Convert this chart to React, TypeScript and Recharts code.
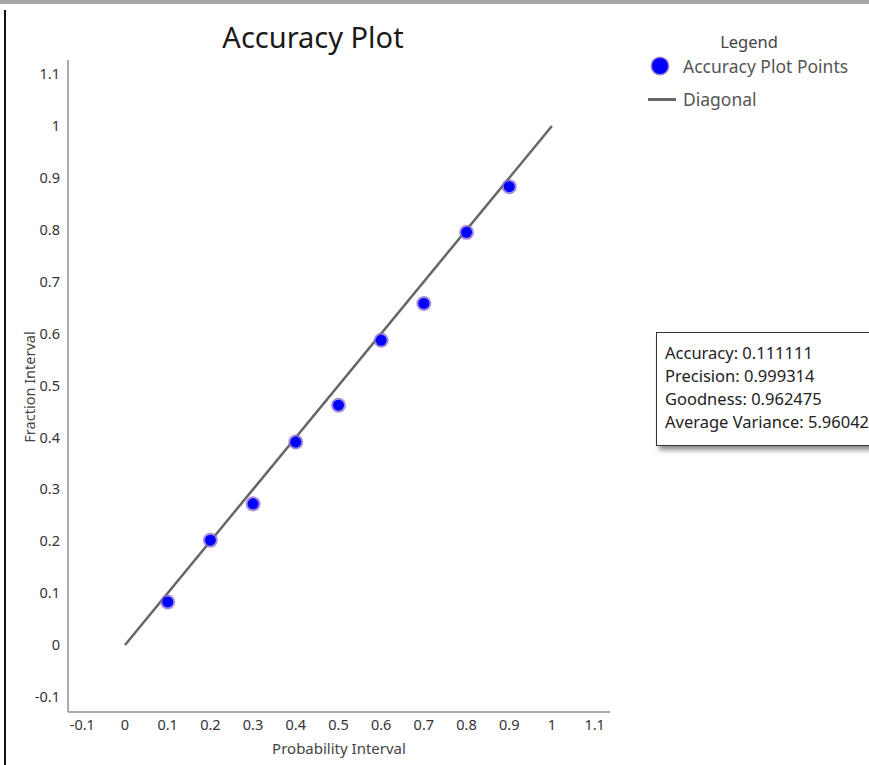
import React from 'react';
import { ScatterChart, Scatter, XAxis, YAxis } from 'recharts';

const probabilityInterval = [0.1, 0.2, 0.3, 0.4, 0.5, 0.6, 0.7, 0.8, 0.9];
const fractionInterval = [0.083, 0.202, 0.272, 0.391, 0.462, 0.587, 0.658, 0.795, 0.883];
const diagonalX = [0, 1];
const diagonalY = [0, 1];
const axisTicks = [-0.1, 0, 0.1, 0.2, 0.3, 0.4, 0.5, 0.6, 0.7, 0.8, 0.9, 1, 1.1];
const statsLines = [
  'Accuracy: 0.111111',
  'Precision: 0.999314',
  'Goodness: 0.962475',
  'Average Variance: 5.960421',
];
const legendItems = ['Accuracy Plot Points', 'Diagonal'];

const points = probabilityInterval.map((x, i) => ({ x, y: fractionInterval[i] }));
const diagonal = diagonalX.map((x, i) => ({ x, y: diagonalY[i] }));

const FONT = '"Noto Sans", "Open Sans", sans-serif';

const Dot = (props: any) => {
  const { cx, cy } = props;
  if (cx == null || cy == null) return <g />;
  return (
    <g>
      <circle cx={cx} cy={cy} r={7.5} fill="#8a66cc" opacity={0.75} />
      <circle cx={cx} cy={cy} r={5.5} fill="#0000ff" />
    </g>
  );
};

const NoShape = () => <g />;

const tickStyle = { fontSize: 14.5, fill: '#333', fontFamily: FONT };

export default function App() {
  return (
    <div style={{ position: 'fixed', left: 0, top: 0, width: 869, height: 765, overflow: 'hidden', background: '#fff', fontFamily: FONT }}>
      <div style={{ position: 'absolute', left: 0, top: 0 }}>
        <ScatterChart width={869} height={765} margin={{ top: 60, right: 259, bottom: 23, left: 8 }}>
          <XAxis
            type="number"
            dataKey="x"
            domain={[-0.1335, 1.136]}
            ticks={axisTicks}
            allowDataOverflow
            tickLine={false}
            axisLine={{ stroke: '#aaa', strokeWidth: 2 }}
            tick={tickStyle}
            tickFormatter={(v: number) => String(+v.toFixed(1))}
            height={30}
            interval={0}
          />
          <YAxis
            type="number"
            dataKey="y"
            domain={[-0.129, 1.127]}
            ticks={axisTicks}
            allowDataOverflow
            tickLine={false}
            axisLine={{ stroke: '#aaa', strokeWidth: 2 }}
            tick={tickStyle}
            tickFormatter={(v: number) => String(+v.toFixed(1))}
            width={60}
            interval={0}
          />
          <Scatter
            data={diagonal}
            line={{ stroke: '#666', strokeWidth: 2.5 }}
            shape={NoShape}
            isAnimationActive={false}
          />
          <Scatter data={points} shape={Dot} isAnimationActive={false} />
        </ScatterChart>
      </div>
      <div style={{ position: 'absolute', left: 0, top: 0, width: 869, height: 4, background: '#a6a6a6' }} />
      <div style={{ position: 'absolute', left: 4, top: 10, width: 1.5, height: 760, background: '#111' }} />
      <div style={{ position: 'absolute', left: 313, top: 36, transform: 'translate(-50%, -50%)', fontSize: 29, color: '#1a1a1a', whiteSpace: 'nowrap' }}>
        Accuracy Plot
      </div>
      <div style={{ position: 'absolute', left: 749, top: 41, transform: 'translate(-50%, -50%)', fontSize: 16.5, color: '#444', whiteSpace: 'nowrap' }}>
        Legend
      </div>
      <div style={{ position: 'absolute', left: 652, top: 58, width: 16, height: 16, borderRadius: 8, background: '#0000ff', boxShadow: '0 0 0 1.5px rgba(120,80,200,0.7)' }} />
      <div style={{ position: 'absolute', left: 683, top: 66, transform: 'translateY(-50%)', fontSize: 17.5, color: '#555', whiteSpace: 'nowrap' }}>
        {legendItems[0]}
      </div>
      <div style={{ position: 'absolute', left: 648, top: 98, width: 28, height: 2.5, background: '#666' }} />
      <div style={{ position: 'absolute', left: 683, top: 99, transform: 'translateY(-50%)', fontSize: 17.5, color: '#555', whiteSpace: 'nowrap' }}>
        {legendItems[1]}
      </div>
      <div style={{ position: 'absolute', left: 29, top: 387, transform: 'translate(-50%, -50%) rotate(-90deg)', fontSize: 14.5, color: '#444', whiteSpace: 'nowrap' }}>
        Fraction Interval
      </div>
      <div style={{ position: 'absolute', left: 339, top: 748, transform: 'translate(-50%, -50%)', fontSize: 15, color: '#444', whiteSpace: 'nowrap' }}>
        Probability Interval
      </div>
      <div style={{ position: 'absolute', left: 656, top: 332, width: 260, height: 114, border: '1px solid #333', background: '#fff', boxShadow: '3px 4px 5px rgba(0,0,0,0.45)', boxSizing: 'border-box', padding: '8px 0 0 8px' }}>
        {statsLines.map((t) => (
          <div key={t} style={{ fontSize: 16.5, lineHeight: '23px', color: '#222', whiteSpace: 'nowrap' }}>{t}</div>
        ))}
      </div>
    </div>
  );
}
